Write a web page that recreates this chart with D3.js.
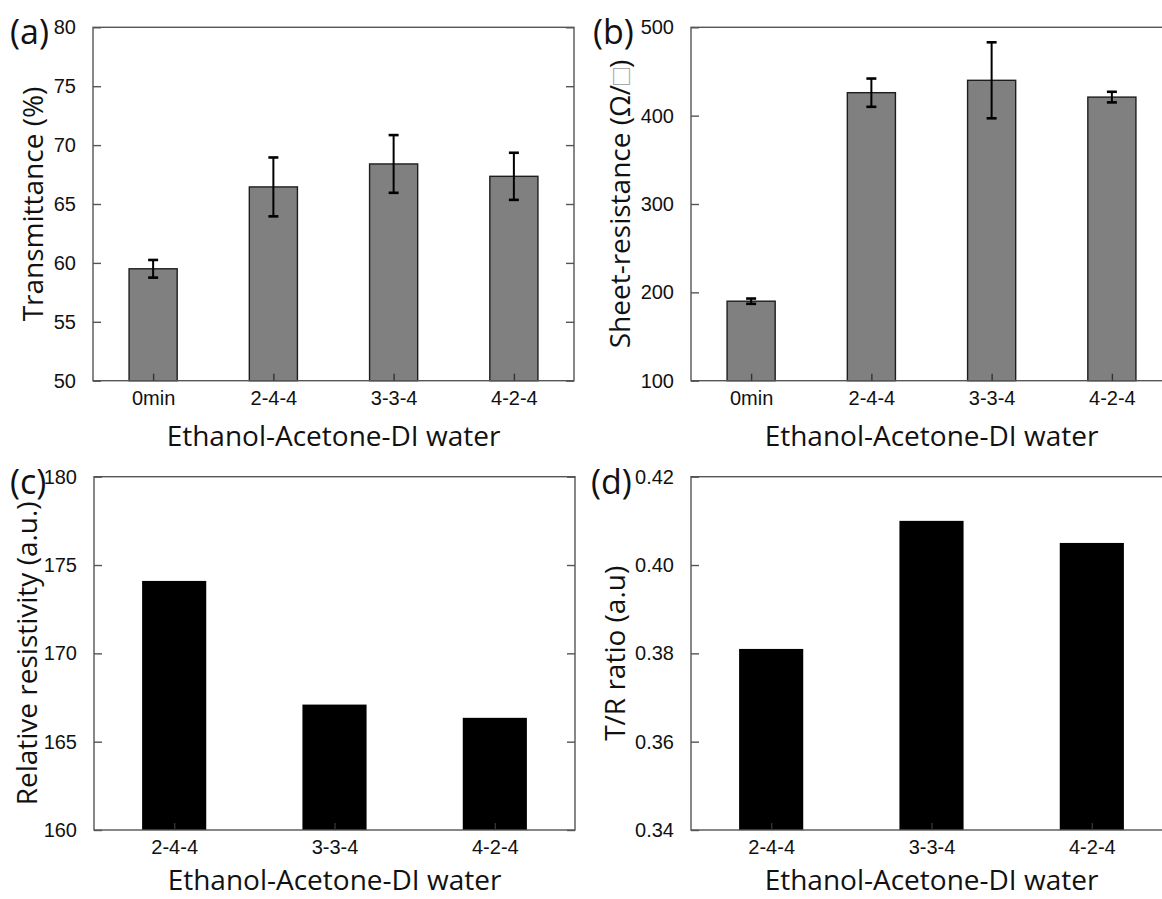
<!DOCTYPE html>
<html>
<head>
<meta charset="utf-8">
<script src="https://cdn.jsdelivr.net/npm/d3@7"></script>
<style>
  body { margin: 0; background: #fff; }
  svg { display: block; font-family: "Liberation Sans", Arial, sans-serif; }
  .title { font-family: "Open Sans", "Liberation Sans", sans-serif; }
</style>
</head>
<body>
<svg id="fig" width="1162" height="899"></svg>
<script>
// data
const catsAB = ["0min", "2-4-4", "3-3-4", "4-2-4"];
const transmittance = [59.5, 66.45, 68.4, 67.35];
const transErr = [0.75, 2.5, 2.45, 2.0];
const sheetRes = [190, 426, 440, 421];
const sheetErr = [3, 16, 43, 6];
const catsCD = ["2-4-4", "3-3-4", "4-2-4"];
const resistivity = [174.1, 167.1, 166.35];
const trRatio = [0.381, 0.410, 0.405];
const transTicks = [50, 55, 60, 65, 70, 75, 80];
const sheetTicks = [100, 200, 300, 400, 500];
const resTicks = [160, 165, 170, 175, 180];
const trTicks = [0.34, 0.36, 0.38, 0.40, 0.42];

const svg = d3.select("#fig");
const frameColor = "#555";

function drawPanel(p) {
    const g = svg.append("g").attr("transform", `translate(${p.left},${p.top})`);
    const x = d3.scalePoint().domain(p.cats).range([0, p.w]).padding(0.5);
    const y = d3.scaleLinear().domain([p.ticks[0], p.ticks[p.ticks.length - 1]]).range([p.h, 0]);
    const bw = x.step() * 0.4;

    // bars
    g.selectAll(".bar").data(p.values).enter().append("rect")
        .attr("x", (d, i) => x(p.cats[i]) - bw / 2)
        .attr("y", d => y(d))
        .attr("width", bw)
        .attr("height", d => p.h - y(d))
        .attr("fill", p.fill)
        .attr("stroke", p.fill === "#000" ? "none" : "#1e1e1e")
        .attr("stroke-width", 1.4);

    // error bars
    if (p.err) {
        const eb = g.selectAll(".err").data(p.values).enter().append("g")
            .attr("transform", (d, i) => `translate(${x(p.cats[i])},0)`);
        eb.append("line").attr("y1", (d, i) => y(d + p.err[i])).attr("y2", (d, i) => y(d - p.err[i]))
            .attr("stroke", "#000").attr("stroke-width", 2);
        [1, -1].forEach(s => {
            eb.append("line").attr("x1", -5).attr("x2", 5)
                .attr("y1", (d, i) => y(d + s * p.err[i])).attr("y2", (d, i) => y(d + s * p.err[i]))
                .attr("stroke", "#000").attr("stroke-width", 2.6);
        });
    }

    // frame
    g.append("rect").attr("width", p.w).attr("height", p.h)
        .attr("fill", "none").attr("stroke", frameColor).attr("stroke-width", 1.4);

    // left axis ticks + labels, inward ticks
    const yl = g.append("g").call(d3.axisLeft(y).tickValues(p.ticks).tickSize(-8).tickPadding(17).tickFormat(p.fmt));
    yl.select(".domain").remove();
    yl.selectAll("line").attr("stroke", frameColor).attr("stroke-width", 1.4);
    yl.selectAll("text").attr("font-size", 20).attr("fill", "#111");
    // right ticks
    const yr = g.append("g").attr("transform", `translate(${p.w},0)`)
        .call(d3.axisRight(y).tickValues(p.ticks).tickSize(-8).tickFormat(""));
    yr.select(".domain").remove();
    yr.selectAll("line").attr("stroke", frameColor).attr("stroke-width", 1.4);

    // bottom axis
    const xb = g.append("g").attr("transform", `translate(0,${p.h})`)
        .call(d3.axisBottom(x).tickSize(-7).tickPadding(10));
    xb.select(".domain").remove();
    xb.selectAll("line").attr("stroke", "#333").attr("stroke-width", 1.4);
    xb.selectAll("text").attr("font-size", 20).attr("fill", "#111");

    // axis titles
    g.append("text").attr("class", "title").attr("x", p.w / 2).attr("y", p.h + p.xTitleDy)
        .attr("text-anchor", "middle").attr("font-size", 28).attr("fill", "#111")
        .text("Ethanol-Acetone-DI water");
    const yt = g.append("text").attr("class", "title")
        .attr("transform", `translate(${p.yTitleX},${p.h / 2}) rotate(-90)`)
        .attr("text-anchor", "middle").attr("font-size", 28).attr("fill", "#111");
    p.yTitle.forEach(part => {
        const t = yt.append("tspan").text(part.t);
        if (part.c) t.attr("fill", part.c);
    });

    // panel label
    svg.append("text").attr("class", "title").attr("x", p.labX).attr("y", p.top + 17)
        .attr("font-size", 34).attr("fill", "#111").text(p.label);
}

drawPanel({ left: 93, top: 27.3, w: 481, h: 353.4, cats: catsAB, values: transmittance, err: transErr,
    ticks: transTicks, fmt: d3.format("d"), fill: "#808080", yTitleX: -50, xTitleDy: 65, labX: 10, label: "(a)",
    yTitle: [{ t: "Transmittance (%)" }] });
drawPanel({ left: 691, top: 27.3, w: 481, h: 353.4, cats: catsAB, values: sheetRes, err: sheetErr,
    ticks: sheetTicks, fmt: d3.format("d"), fill: "#808080", yTitleX: -61, xTitleDy: 65, labX: 593, label: "(b)",
    yTitle: [{ t: "Sheet-resistance (Ω/" }, { t: "□", c: "#aaa" }, { t: ")" }] });
drawPanel({ left: 94, top: 476.7, w: 481, h: 353.3, cats: catsCD, values: resistivity,
    ticks: resTicks, fmt: d3.format("d"), fill: "#000", yTitleX: -57, xTitleDy: 60, labX: 10, label: "(c)",
    yTitle: [{ t: "Relative resistivity (a.u.)" }] });
drawPanel({ left: 691, top: 476.7, w: 481, h: 353.3, cats: catsCD, values: trRatio,
    ticks: trTicks, fmt: d3.format(".2f"), fill: "#000", yTitleX: -66, xTitleDy: 60, labX: 591, label: "(d)",
    yTitle: [{ t: "T/R ratio (a.u)" }] });
</script>
</body>
</html>
